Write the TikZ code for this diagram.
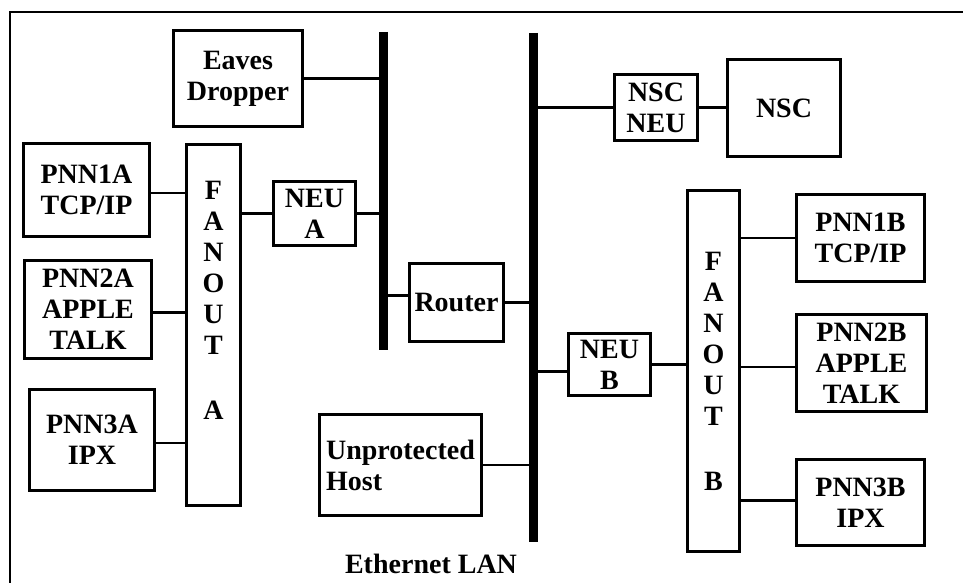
\documentclass[tikz,border=0pt]{standalone}
\usepackage{fontspec}
\setmainfont{Liberation Serif}
\begin{document}
\begin{tikzpicture}[x=1pt, y=-1pt,
    box/.style={draw, line width=2.6pt, inner sep=0pt, align=center,
      font=\bfseries\fontsize{28}{31}\selectfont},
    txt/.style={inner sep=0pt, align=center, font=\bfseries\fontsize{28}{31}\selectfont},
    wire/.style={line width=2.6pt},
    bus/.style={line width=9pt}]
  \useasboundingbox (0,0) rectangle (963,583);

  % ===== frame =====
  \draw[line width=2.8pt] (10,583) -- (10,12) -- (963,12);

  % ===== Ethernet segments =====
  \def\xL{383}
  \def\xR{533}
  \coordinate (busLtop) at (\xL,32);
  \coordinate (busLbot) at (\xL,350);
  \coordinate (busRtop) at (\xR,33);
  \coordinate (busRbot) at (\xR,542);
  \draw[bus] (busLtop) -- (busLbot);
  \draw[bus] (busRtop) -- (busRbot);
  \node[txt] (lan) at (431,564) {Ethernet LAN};

  % ===== side A =====
  \node[box, minimum width=129pt, minimum height=96pt] (eaves) at (238,78.5) {Eaves\\Dropper};
  \node[box, minimum width=126pt, minimum height=93pt] (pnn1a) at (86.5,190) {PNN1A\\TCP/IP};
  \node[box, minimum width=127pt, minimum height=98pt] (pnn2a) at (88,309.5) {PNN2A\\APPLE\\TALK};
  \node[box, minimum width=125pt, minimum height=101pt] (pnn3a) at (92,440) {PNN3A\\IPX};
  \node[box, minimum width=54pt, minimum height=361pt] (fanA) at (213.5,325) {};
  \node[txt] (fanAtext) at (213.5,300) {F\\A\\N\\O\\U\\T\\[34pt]A};
  \node[box, minimum width=82pt, minimum height=64pt] (neua) at (314.5,213.5) {NEU\\A};

  \draw[wire] (eaves.east) -- (eaves.east -| busLtop);
  \draw[wire] ([yshift=-3pt]pnn1a.east) -- ([yshift=-3pt]pnn1a.east -| fanA.west);
  \draw[wire] ([yshift=-3pt]pnn2a.east) -- ([yshift=-3pt]pnn2a.east -| fanA.west);
  \draw[wire] ([yshift=-3pt]pnn3a.east) -- ([yshift=-3pt]pnn3a.east -| fanA.west);
  \draw[wire] (neua.west -| fanA.east) -- (neua.west);
  \draw[wire] (neua.east) -- (neua.east -| busLtop);

  % ===== router and host =====
  \node[box, minimum width=94pt, minimum height=78pt] (router) at (456.5,302.5) {Router};
  \node[box, minimum width=162pt, minimum height=101pt, align=left] (host) at (400.5,465) {Unprotected\\Host};

  \draw[wire] ([yshift=7pt]router.west -| busLtop) -- ([yshift=7pt]router.west);
  \draw[wire] (router.east) -- (router.east -| busRtop);
  \draw[wire] (host.east) -- (host.east -| busRtop);

  % ===== NSC =====
  \node[box, minimum width=83pt, minimum height=66pt] (nscneu) at (656,107.5) {NSC\\NEU};
  \node[box, minimum width=113pt, minimum height=97pt] (nsc) at (784,108) {NSC};

  \draw[wire] (nscneu.west -| busRtop) -- (nscneu.west);
  \draw[wire] (nscneu.east) -- (nscneu.east -| nsc.west);

  % ===== side B =====
  \node[box, minimum width=82pt, minimum height=62pt] (neub) at (609.5,364.5) {NEU\\B};
  \node[box, minimum width=52pt, minimum height=361pt] (fanB) at (713.5,371) {F\\A\\N\\O\\U\\T\\[34pt]B};
  \node[box, minimum width=128pt, minimum height=87pt] (pnn1b) at (860.5,238) {PNN1B\\TCP/IP};
  \node[box, minimum width=130pt, minimum height=97pt] (pnn2b) at (861.5,363) {PNN2B\\APPLE\\TALK};
  \node[box, minimum width=128pt, minimum height=86pt] (pnn3b) at (860.5,502.5) {PNN3B\\IPX};

  \draw[wire] ([yshift=-7pt]neub.west -| busRtop) -- ([yshift=-7pt]neub.west);
  \draw[wire] (neub.east) -- (neub.east -| fanB.west);
  \draw[wire] (pnn1b.west -| fanB.east) -- (pnn1b.west);
  \draw[wire] ([yshift=-4pt]pnn2b.west -| fanB.east) -- ([yshift=-4pt]pnn2b.west);
  \draw[wire] ([yshift=2pt]pnn3b.west -| fanB.east) -- ([yshift=2pt]pnn3b.west);
\end{tikzpicture}
\end{document}
